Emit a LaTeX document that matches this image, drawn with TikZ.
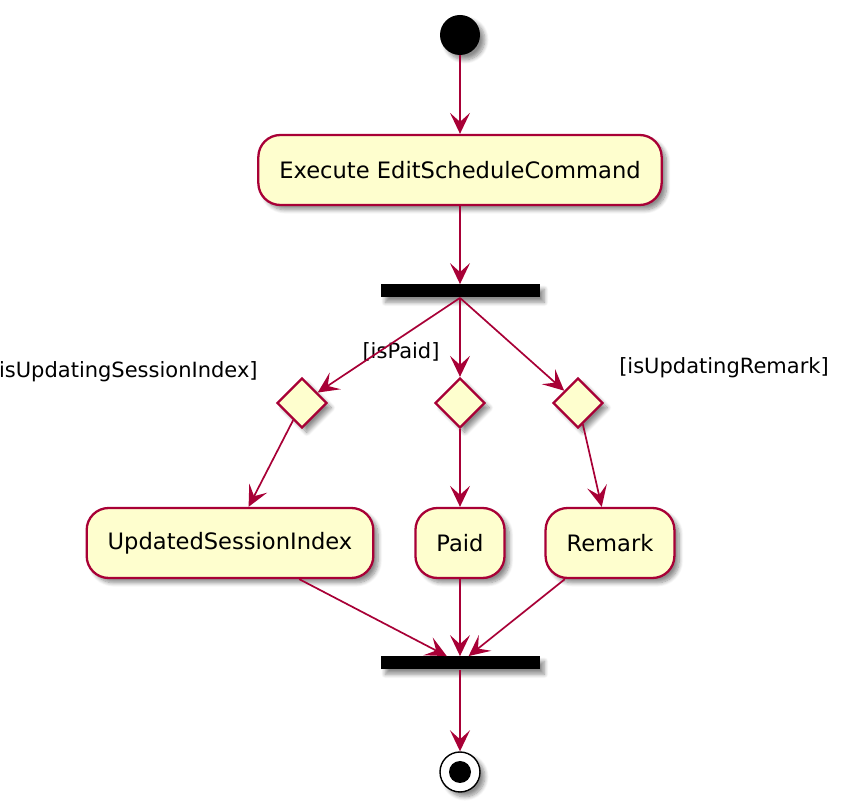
\documentclass[tikz,border=0pt]{standalone}
\usepackage{fontspec}
\setmainfont{DejaVu Sans}
\usepackage{xcolor}
\usetikzlibrary{arrows.meta,shapes.geometric,positioning,shadows.blur}
\definecolor{umlred}{HTML}{A80036}
\definecolor{umlfill}{HTML}{FEFECE}

\begin{document}
\begin{tikzpicture}[x=0.5pt, y=-0.5pt,
                flow/.style={->,draw=umlred,line width=0.85pt},
                >={Stealth[length=10.5pt,width=10pt,inset=4.5pt]}]
        \tikzset{
                shade/.style  = {blur shadow={shadow xshift=2.4pt, shadow yshift=-2.4pt,
                                shadow blur steps=8, shadow blur radius=2pt, shadow opacity=45}},
                basic/.style  = {draw=umlred, line width=1.15pt, fill=umlfill, shade,
                                font=\fontsize{11.3}{13}\selectfont},
                action/.style = {basic, rounded corners=11pt, minimum height=35pt,
                                inner xsep=10.5pt, align=center},
                choice/.style = {basic, diamond, minimum width=25pt, minimum height=25pt,
                                inner sep=0pt},
                bar/.style    = {fill=black, minimum width=79.5pt, minimum height=6.5pt,
                                inner sep=0pt, shade},
                guard/.style  = {font=\fontsize{10.5}{12}\selectfont, inner sep=0pt}
        }
        \useasboundingbox (0,0) rectangle (853,812);

        % start and first action
        \node[circle, fill=black, minimum size=20pt, inner sep=0pt, shade] (start) at (460,35) {};
        \node[action] (cmd) at (460,170) {Execute EditScheduleCommand};
        \node[bar] (fork) at (460,291) {};

        % the three branches
        \node[choice] (d1) at (302,403) {};
        \node[choice] (d2) at (460,403) {};
        \node[choice] (d3) at (578,403) {};

        \node[guard, anchor=east] (g1) at (258,372) {[isUpdatingSessionIndex]};
        \node[guard] (g2) at (401,352) {[isPaid]};
        \node[guard] (g3) at (724,368) {[isUpdatingRemark]};

        \node[action] (a1) at (230,543) {UpdatedSessionIndex};
        \node[action] (a2) at (460,543) {Paid};
        \node[action] (a3) at (610,543) {Remark};

        % join and end
        \node[bar] (join) at (460,663) {};
        \node[circle, draw=black, line width=0.7pt, fill=white, minimum size=20pt,
              inner sep=0pt, shade] (stop) at (460,772) {};
        \node[circle, fill=black, minimum size=11pt, inner sep=0pt] (stopdot) at (stop) {};

        \draw[flow] (start) -- (cmd);
        \draw[flow] (cmd) -- (fork);
        % each branch: fork -> choice -> action -> join
        \foreach \i in {1,2,3} {
                \draw[flow] (fork.south) -- (d\i);
                \draw[flow] (d\i) -- (a\i);
                \draw[flow] (a\i) -- (join);
        }
        \draw[flow] (join) -- (stop);
\end{tikzpicture}
\end{document}
